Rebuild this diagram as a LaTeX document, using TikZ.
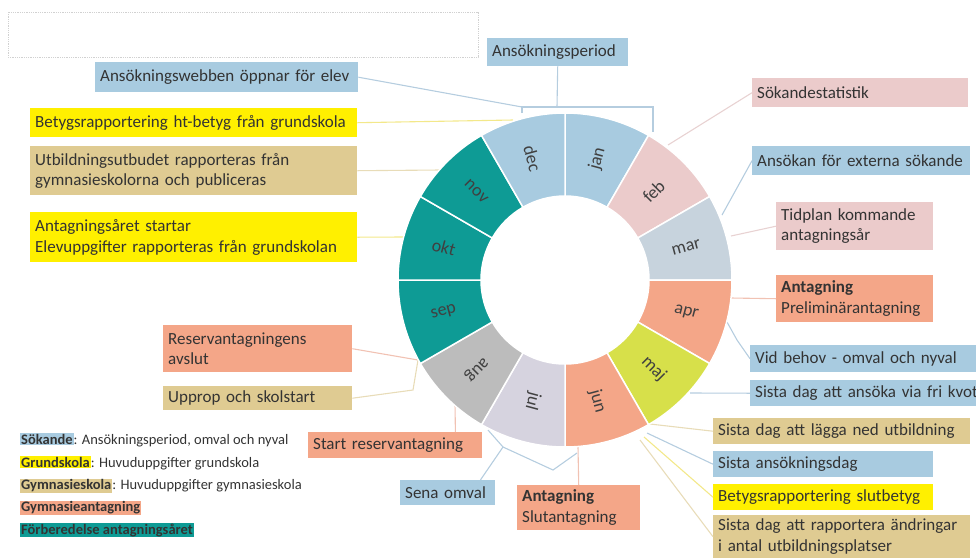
\documentclass[tikz,border=0pt]{standalone}
\usepackage{fontspec}
\setmainfont{Carlito}
\usetikzlibrary{positioning}
\definecolor{sokblue}{HTML}{A8CBE0}
\definecolor{grgul}{HTML}{FFF000}
\definecolor{gymtan}{HTML}{DFCB92}
\definecolor{antsal}{HTML}{F4A688}
\definecolor{rosa}{HTML}{EBCBCB}
\definecolor{tealc}{HTML}{0E9B95}
\definecolor{marc}{HTML}{C7D3DD}
\definecolor{majc}{HTML}{D7E04A}
\definecolor{julc}{HTML}{D6D3DF}
\definecolor{augc}{HTML}{BCBCBC}
\definecolor{lblue}{HTML}{B5CDDF}
\definecolor{lyellow}{HTML}{F3E88A}
\definecolor{ltan}{HTML}{E8DCB8}
\definecolor{lsal}{HTML}{F1C2B3}
\definecolor{lrosa}{HTML}{E8D2D2}
\setlength{\fboxsep}{1pt}
\tikzset{
  ev/.style={anchor=north west, inner xsep=5pt, inner ysep=1pt, align=left,
    font=\fontsize{17}{20.5}\selectfont, text=black!80},
  lnk/.style={line width=1.1pt},
  mon/.style={font=\fontsize{18}{18}\selectfont, text=black!75, inner sep=0pt},
  leg/.style={anchor=west, inner sep=0pt, font=\fontsize{14.5}{16}\selectfont, text=black!80}
}

\begin{document}
\begin{tikzpicture}[x=1pt,y=-1pt]
\useasboundingbox (0,0) rectangle (976,558);
\draw[black!18,densely dotted,line width=0.8pt] (8,12) rectangle (478,57);

\node[ev,fill=sokblue,text width=131pt,minimum height=28pt] (period) at (487,38) {Ansökningsperiod};
\node[ev,fill=sokblue,text width=253pt,minimum height=30pt] (webb) at (95,62) {Ansökningswebben öppnar för elev};
\node[ev,fill=grgul,text width=317pt,minimum height=29pt] (htbetyg) at (30,108) {Betygsrapportering ht-betyg från grundskola};
\node[ev,fill=gymtan,text width=317pt,minimum height=49pt] (utbud) at (30,146) {Utbildningsutbudet rapporteras från\\gymnasieskolorna och publiceras};
\node[ev,fill=grgul,text width=317pt,minimum height=50pt] (arstart) at (30,212) {Antagningsåret startar\\Elevuppgifter rapporteras från grundskolan};
\node[ev,fill=rosa,text width=206pt,minimum height=29pt] (statistik) at (752,78) {Sökandestatistik};
\node[ev,fill=sokblue,text width=208pt,minimum height=29pt] (extern) at (752,146) {Ansökan för externa sökande};
\node[ev,fill=rosa,text width=147pt,minimum height=48pt] (tidplan) at (776,202) {Tidplan kommande\\antagningsår};
\node[ev,fill=antsal,text width=147pt,minimum height=47pt] (prelant) at (776,275) {\textbf{Antagning}\\Preliminärantagning};
\node[ev,fill=sokblue,text width=216pt,minimum height=27pt] (omval) at (750,345) {Vid behov - omval och nyval};
\node[ev,fill=sokblue,text width=245pt,minimum height=26pt] (frikvot) at (750,380) {Sista dag att ansöka via fri kvot};
\node[ev,fill=gymtan,text width=247pt,minimum height=26pt] (lagga) at (713,418) {Sista dag att lägga ned utbildning};
\node[ev,fill=sokblue,text width=210pt,minimum height=26pt] (sistaans) at (713,451) {Sista ansökningsdag};
\node[ev,fill=grgul,text width=210pt,minimum height=26pt] (slutbetyg) at (713,484) {Betygsrapportering slutbetyg};
\node[ev,fill=gymtan,text width=247pt,minimum height=43pt] (andring) at (713,515) {Sista dag att rapportera ändringar\\i antal utbildningsplatser};
\node[ev,fill=antsal,text width=113pt,minimum height=45pt] (slutant) at (517,485) {\textbf{Antagning}\\Slutantagning};
\node[ev,fill=sokblue,text width=85pt,minimum height=25pt] (senaomval) at (400,480) {Sena omval};
\node[ev,fill=antsal,text width=164pt,minimum height=26pt] (startres) at (308,432) {Start reservantagning};
\node[ev,fill=antsal,text width=179pt,minimum height=47pt] (resavslut) at (163,325) {Reservantagningens\\avslut};
\node[ev,fill=gymtan,text width=179pt,minimum height=24pt] (upprop) at (163,386) {Upprop och skolstart};

\node[leg] (leg-sok) at (20,440) {\colorbox{sokblue}{\textbf{Sökande}}: Ansökningsperiod, omval och nyval};
\node[leg] (leg-gr) at (20,463) {\colorbox{grgul}{\textbf{Grundskola}}: Huvuduppgifter grundskola};
\node[leg] (leg-gy) at (20,486) {\colorbox{gymtan}{\textbf{Gymnasieskola}}: Huvuduppgifter gymnasieskola};
\node[leg] (leg-ant) at (20,508) {\colorbox{antsal}{\textbf{Gymnasieantagning}}};
\node[leg] (leg-forb) at (20,530) {\colorbox{tealc}{\textbf{Förberedelse antagningsåret}}};

\coordinate (pb-l) at (522,113);
\coordinate (pb-lt) at (522,107);
\coordinate (pb-m) at (557,107);
\coordinate (pb-rt) at (653,107);
\coordinate (pb-r) at (653,132);
\coordinate (e-ht) at (513,120);
\coordinate (e-utbud) at (440,170);
\coordinate (e-arstart) at (404,237);
\coordinate (e-stat) at (668,145);
\coordinate (e-extern) at (722,215);
\coordinate (e-tidplan) at (731,236);
\coordinate (e-prelant) at (731,298);
\coordinate (b-omval) at (737,340);
\coordinate (e-omval) at (727,322);
\coordinate (e-frikvot) at (690,393);
\coordinate (e-lagga) at (650,424);
\coordinate (e-sistaans) at (647,433);
\coordinate (e-slutbetyg) at (644,437);
\coordinate (e-andring) at (640,440);
\coordinate (e-slutant) at (578,447);
\coordinate (sb-l) at (488,430);
\coordinate (sb-m) at (503,447);
\coordinate (sb-b) at (553,470);
\coordinate (sb-r) at (577,453);
\coordinate (e-startres) at (455,404);
\coordinate (e-resavslut) at (418,360);
\coordinate (b-upprop) at (413,390);

\draw[lnk,lblue] (period.south) -- (pb-m);
\draw[lnk,lblue] (pb-l) -- (pb-lt) -- (pb-rt) -- (pb-r);
\draw[lnk,lblue] (webb.east) -- (pb-lt);
\draw[lnk,lyellow] (htbetyg.east) -- (e-ht);
\draw[lnk,ltan] (utbud.east) -- (e-utbud);
\draw[lnk,lyellow] (arstart.east) -- (e-arstart);
\draw[lnk,lrosa] (statistik.west) -- (e-stat);
\draw[lnk,lblue] (extern.west) -- (e-extern);
\draw[lnk,lrosa] (tidplan.west) -- (e-tidplan);
\draw[lnk,lsal] (prelant.west) -- (e-prelant);
\draw[lnk,lblue] (omval.west) -- (b-omval) -- (e-omval);
\draw[lnk,lblue] (frikvot.west) -- (e-frikvot);
\draw[lnk,ltan] (lagga.west) -- (e-lagga);
\draw[lnk,lblue] (sistaans.west) -- (e-sistaans);
\draw[lnk,lyellow] (slutbetyg.west) -- (e-slutbetyg);
\draw[lnk,ltan] (andring.west) -- (e-andring);
\draw[lnk,lsal] (slutant.north) -- (e-slutant);
\draw[lnk,lblue] ([xshift=-15pt]senaomval.north east) -- (sb-m);
\draw[lnk,lblue] (sb-l) -- (sb-m) -- (sb-b) -- (sb-r);
\draw[lnk,lsal] ([xshift=-27pt]startres.north east) -- (e-startres);
\draw[lnk,lsal] (resavslut.east) -- (e-resavslut);
\draw[lnk,ltan] (upprop.east) -- (b-upprop) -- (e-resavslut);

\begin{scope}[shift={(565,280)},yscale=-1]
\foreach \m/\a/\col/\tr in {jan/60/sokblue/75, feb/30/rosa/45, mar/0/marc/15, apr/-30/antsal/-15,
    maj/-60/majc/-45, jun/-90/antsal/-75, jul/-120/julc/-105, aug/-150/augc/-135,
    sep/180/tealc/15, okt/150/tealc/-15, nov/120/tealc/-45, dec/90/sokblue/-75}{
  \filldraw[fill=\col,draw=white,line width=1.5pt] (\a:84) -- (\a:167)
    arc[start angle=\a, end angle=\a+30, radius=167] -- (\a+30:84)
    arc[start angle=\a+30, end angle=\a, radius=84] -- cycle;
  \node[mon,rotate=\tr] (m-\m) at (\a+15:125.5) {\m};
}
\end{scope}
\end{tikzpicture}
\end{document}
